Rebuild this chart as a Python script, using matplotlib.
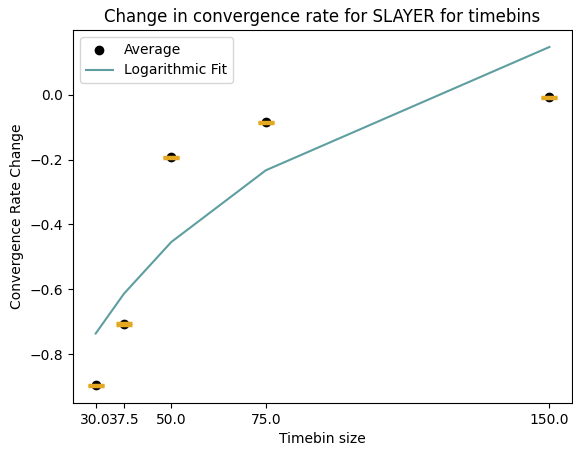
import numpy as np
import matplotlib
matplotlib.use("Agg")
import matplotlib.pyplot as plt

timebins = [30.0, 37.5, 50.0, 75.0, 150.0]
avg_change = [-0.896, -0.707, -0.193, -0.085, -0.008]
err = [0.002, 0.002, 0.002, 0.002, 0.002]
log_fit = [-0.736, -0.613, -0.454, -0.233, 0.147]

fig = plt.figure(figsize=(5.73, 4.49), dpi=100)
ax = fig.add_axes([0.1274, 0.1024, 0.871, 0.8307])

ax.scatter(timebins, avg_change, color='black', label='Average', zorder=2)
ax.errorbar(timebins, avg_change, yerr=err, fmt='none', ecolor='#E5A823',
            capsize=5.5, capthick=2.5, elinewidth=1.5, zorder=3)
ax.plot(timebins, log_fit, color='cadetblue', label='Logarithmic Fit', zorder=1)

ax.set_xticks(timebins)
ax.set_xticklabels([str(t) for t in timebins])
ax.set_xlabel('Timebin size')
ax.set_ylabel('Convergence Rate Change')
ax.set_title('Change in convergence rate for SLAYER for timebins')
ax.legend(loc='upper left')

fig.savefig('out.png')
